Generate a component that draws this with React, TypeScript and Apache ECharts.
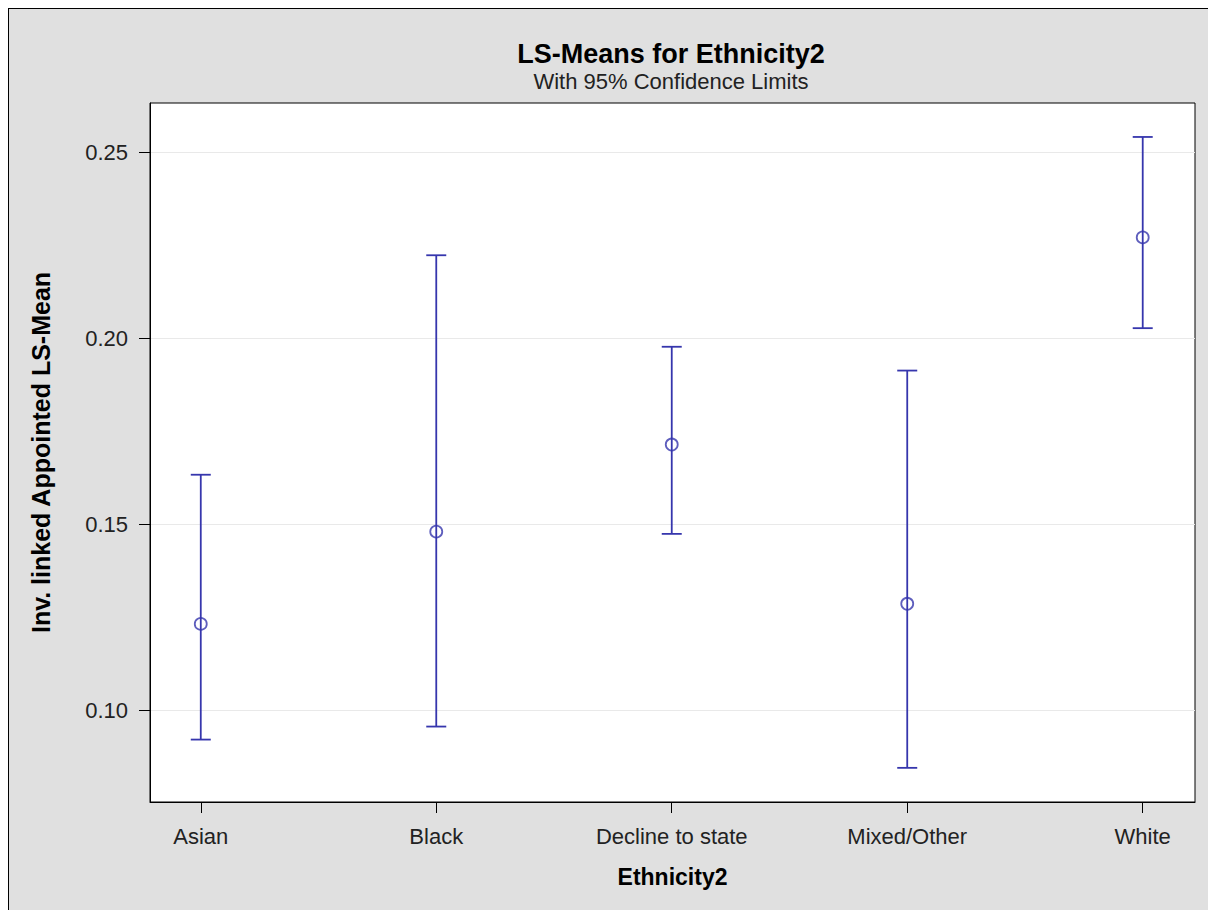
import React, { useEffect, useRef } from "react";
import * as echarts from "echarts";

const categories = ["Asian", "Black", "Decline to state", "Mixed/Other", "White"];
const means = [0.1232, 0.148, 0.1714, 0.1286, 0.2271];
const lower = [0.0921, 0.0956, 0.1474, 0.0845, 0.2027];
const upper = [0.1633, 0.2223, 0.1977, 0.1913, 0.2541];
const yTicks = [0.1, 0.15, 0.2, 0.25];
const xTicks = [0, 1, 2, 3, 4];

const BAR_COLOR = "#3636ad";
const FONT = "'Liberation Sans', Arial, sans-serif";

export default function App() {
  const ref = useRef<HTMLDivElement>(null);

  useEffect(() => {
    if (!ref.current) return;
    const chart = echarts.init(ref.current, undefined, { renderer: "svg" });

    const barData = categories.map((_, i) => [i, lower[i], upper[i]]);
    const pointData = categories.map((_, i) => [i, means[i]]);

    const option: any = {
      animation: false,
      backgroundColor: "#e0e0e0",
      textStyle: { fontFamily: FONT },
      title: [
        {
          text: "LS-Means for Ethnicity2",
          left: 657,
          top: 26,
          textAlign: "center",
          textStyle: { fontFamily: FONT, fontSize: 27, fontWeight: "bold", color: "#000" },
        },
        {
          text: "With 95% Confidence Limits",
          left: 657,
          top: 56,
          textAlign: "center",
          textStyle: { fontFamily: FONT, fontSize: 22, fontWeight: "normal", color: "#222" },
        },
      ],
      grid: {
        left: 141,
        top: 94,
        width: 1045,
        height: 699,
        show: true,
        backgroundColor: "#ffffff",
        borderColor: "#000",
        borderWidth: 1,
        containLabel: false,
      },
      xAxis: {
        type: "value",
        min: -0.2156,
        max: 4.222,
        name: "Ethnicity2",
        nameLocation: "middle",
        nameGap: 63,
        nameTextStyle: { fontFamily: FONT, fontSize: 23, fontWeight: "bold", color: "#000" },
        axisLine: { show: true, onZero: false, lineStyle: { color: "#000", width: 1 } },
        axisTick: { show: true, length: 11, customValues: xTicks, lineStyle: { color: "#000" } },
        axisLabel: {
          customValues: xTicks,
          margin: 23,
          fontFamily: FONT,
          fontSize: 22,
          color: "#222",
          formatter: (v: number) => categories[Math.round(v)] ?? "",
        },
        splitLine: { show: false },
      },
      yAxis: {
        type: "value",
        min: 0.07532,
        max: 0.26323,
        name: "Inv. linked Appointed LS-Mean",
        nameLocation: "middle",
        nameGap: 97,
        nameTextStyle: { fontFamily: FONT, fontSize: 25, fontWeight: "bold", color: "#000" },
        axisLine: { show: true, onZero: false, lineStyle: { color: "#000", width: 1 } },
        axisTick: { show: true, length: 11, customValues: yTicks, lineStyle: { color: "#000" } },
        axisLabel: {
          customValues: yTicks,
          margin: 22,
          fontFamily: FONT,
          fontSize: 22,
          color: "#222",
          formatter: (v: number) => v.toFixed(2),
        },
        splitLine: { show: true, lineStyle: { color: "#e9e9e9", width: 1 } },
      },
      series: [
        {
          type: "custom",
          name: "95% CL",
          z: 2,
          data: barData,
          renderItem: (params: any, api: any) => {
            const x = api.value(0);
            const lo = api.coord([x, api.value(1)]);
            const hi = api.coord([x, api.value(2)]);
            const half = 10;
            const style = { stroke: BAR_COLOR, lineWidth: 1.8, fill: "none" };
            return {
              type: "group",
              children: [
                { type: "line", shape: { x1: lo[0], y1: lo[1], x2: hi[0], y2: hi[1] }, style },
                { type: "line", shape: { x1: lo[0] - half, y1: lo[1], x2: lo[0] + half, y2: lo[1] }, style },
                { type: "line", shape: { x1: hi[0] - half, y1: hi[1], x2: hi[0] + half, y2: hi[1] }, style },
              ],
            };
          },
        },
        {
          type: "scatter",
          name: "LS-Mean",
          z: 3,
          data: pointData,
          symbol: "circle",
          symbolSize: 12,
          itemStyle: { color: "rgba(0,0,0,0)", borderColor: BAR_COLOR, borderWidth: 1.8 },
        },
      ],
    };

    chart.setOption(option);
    return () => chart.dispose();
  }, []);

  return (
    <div
      style={{
        position: "fixed",
        left: 8,
        top: 8,
        width: 1200,
        height: 902,
        borderLeft: "1px solid #000",
        borderTop: "1px solid #000",
        boxSizing: "border-box",
        background: "#e0e0e0",
      }}
    >
      <div ref={ref} style={{ width: 1199, height: 901 }} />
    </div>
  );
}
